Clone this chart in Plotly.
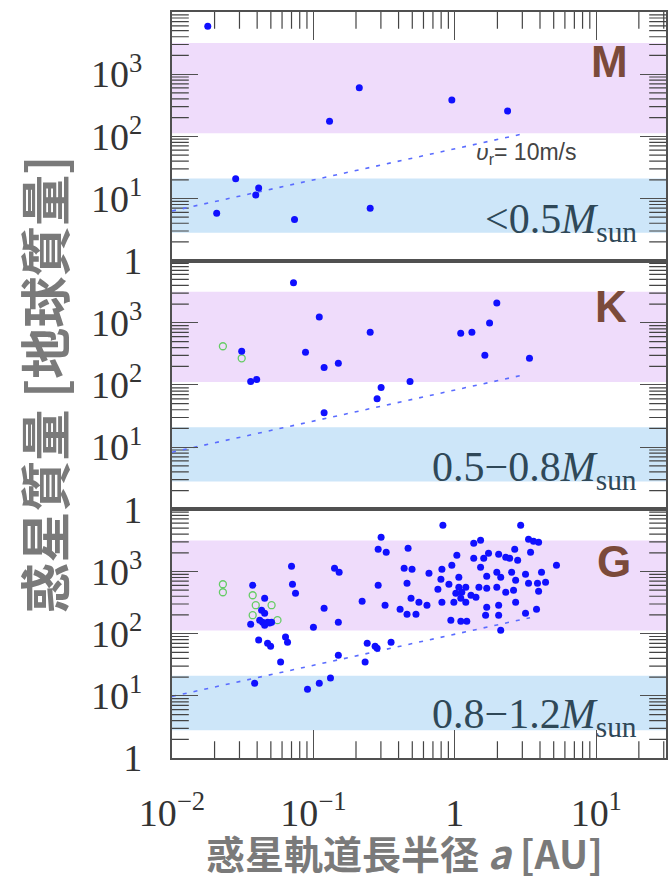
import plotly.graph_objects as go
from plotly.subplots import make_subplots

# ---------------- data: semi-major axis [AU], planet mass [Earth masses] ----------------
# M dwarfs (< 0.5 Msun)
m_a = [0.0179, 0.211, 0.952, 2.36, 0.130, 0.0282, 0.041, 0.0391, 0.0207, 0.0735, 0.252]
m_mass = [5920, 603, 385, 255, 175, 20.8, 14.8, 11.4, 5.8, 4.6, 7.0]

# K dwarfs (0.5-0.8 Msun)
k_a = [0.0723, 0.110, 0.0879, 0.119, 0.0311, 0.036, 0.0397, 0.119, 0.150, 0.252,
       1.10, 1.32, 1.76, 1.98, 1.63, 3.37, 0.482, 0.301, 0.282]
k_mass = [4400, 1240, 336, 192, 349, 114, 123, 35.9, 223, 708,
          682, 708, 991, 2090, 300, 269, 114, 91, 60]
k_open_a = [0.0229, 0.0311]
k_open_mass = [420, 269]

# G dwarfs (0.8-1.2 Msun)
g_a = [0.0372, 0.0452, 0.043, 0.0452, 0.0417, 0.0437, 0.0474, 0.0506, 0.036, 0.0452,
       0.049, 0.041, 0.0474, 0.0498, 0.0635, 0.0656, 0.0586, 0.0384, 0.070, 0.0711,
       0.0747, 0.100, 0.119, 0.141, 0.152, 0.150, 0.150, 0.0908, 0.110, 0.132,
       0.221, 0.232, 0.240, 0.273, 0.282, 0.354, 0.301, 0.287, 0.327, 0.287,
       0.321, 0.467, 0.438, 0.459, 0.410, 0.459, 0.823, 1.52, 1.36, 1.73,
       2.04, 1.033, 1.36, 1.60, 2.29, 0.498, 0.810, 0.952, 1.52, 0.656,
       1.067, 1.68, 1.98, 0.797, 0.759, 0.908, 1.067, 1.195, 1.48, 1.68,
       1.98, 1.016, 1.12, 1.30, 1.41, 1.102, 0.984, 1.195, 2.29, 0.490,
       0.557, 0.635, 0.810, 0.531, 1.68, 2.04, 1.65, 2.04, 0.937, 1.102,
       1.215, 2.11, 2.92, 3.32, 3.60, 3.91, 2.65, 2.44, 2.78, 3.43,
       5.23, 2.52, 3.16, 4.10, 2.11, 2.69, 3.32, 3.84, 4.38, 2.60,
       3.91, 2.69, 3.78, 3.16]
g_mass = [600, 372, 239, 213, 165, 153, 153, 153, 142, 137,
          148, 79, 70, 63, 88, 73, 35, 16, 1210, 624,
          448, 127, 257, 1130, 973, 153, 45, 12.8, 16, 19.3,
          333, 35, 70, 63, 58, 73, 3550, 2280, 2040, 601,
          287, 2360, 1130, 648, 248, 206, 5530, 3180, 2840, 1960,
          1890, 1820, 1630, 1630, 1690, 1090, 1090, 1260, 1170, 937,
          809, 839, 973, 751, 518, 624, 558, 558, 558, 538,
          558, 448, 464, 415, 386, 372, 321, 321, 464, 372,
          321, 287, 321, 206, 267, 287, 198, 198, 165, 159,
          159, 114, 5530, 3300, 3060, 2950, 2280, 1630, 1520, 2040,
          1260, 973, 903, 973, 809, 723, 648, 648, 672, 500,
          482, 321, 248, 213]
g_open_a = [0.0229, 0.0229, 0.0372, 0.0391, 0.0506, 0.0372, 0.0557]
g_open_mass = [624, 464, 415, 287, 287, 198, 165]

# ---------------- panel annotations and reference levels ----------------
spectral_types = ["M", "K", "G"]
star_mass_ranges = ["&lt;0.5", "0.5−0.8", "0.8−1.2"]
rv_mass_at_001au = [6.3, 8.3, 9.8]   # planet mass giving v_r = 10 m/s at 0.01 AU
rv_end_a = [3.0, 3.0, 3.4]           # outer end of the v_r = 10 m/s line [AU]
gas_giant_band = [112, 3160]
ice_giant_band = [2.8, 21]

x_tickvals = [0.01, 0.1, 1, 10]
x_ticktext = ["10<sup>−2</sup>", "10<sup>−1</sup>", "1", "10<sup>1</sup>"]
y_tickvals = [1, 10, 100, 1000]
y_ticktext = ["1", "10<sup>1</sup>", "10<sup>2</sup>", "10<sup>3</sup>"]

# ---------------- styling ----------------
BLUE = "#1010ff"
GREEN = "#66cc66"
FRAME = "#505050"
TICK_FONT = dict(family="Liberation Serif", size=38, color="#333333")
CJK = "Noto Sans CJK JP"
X_MIN, X_MAX = 0.01, 10 ** 1.493
Y_MIN, Y_MAX = 1, 10 ** 4


def minor_log_ticks(lo_exp, hi_exp):
    return [m * 10 ** e for e in range(lo_exp, hi_exp) for m in range(2, 10)]


fig = make_subplots(rows=3, cols=1, shared_xaxes=True, vertical_spacing=0)

panels = [
    (m_a, m_mass, None, None),
    (k_a, k_mass, k_open_a, k_open_mass),
    (g_a, g_mass, g_open_a, g_open_mass),
]

y_minor = minor_log_ticks(0, 4)
x_minor = [v for v in minor_log_ticks(-2, 2) if v < X_MAX]
minor_mark = dict(color="#444444", size=24, line=dict(color="#444444", width=1.2))

for i, (xa, ym, oxa, oym) in enumerate(panels):
    row = i + 1
    # minor log ticks on the panel edges, drawn as clipped tick-shaped markers
    fig.add_trace(go.Scatter(
        x=[X_MIN] * len(y_minor) + [X_MAX] * len(y_minor), y=y_minor + y_minor,
        mode="markers", marker=dict(symbol="line-ew", **minor_mark),
        showlegend=False, hoverinfo="skip", cliponaxis=True), row=row, col=1)
    if row in (1, 3):
        edge = Y_MAX if row == 1 else Y_MIN
        fig.add_trace(go.Scatter(
            x=x_minor, y=[edge] * len(x_minor),
            mode="markers", marker=dict(symbol="line-ns", **minor_mark),
            showlegend=False, hoverinfo="skip", cliponaxis=True), row=row, col=1)

    # radial-velocity detection limit, M ~ a^(1/2)
    m0 = rv_mass_at_001au[i]
    a1 = rv_end_a[i]
    fig.add_trace(go.Scatter(
        x=[0.01, a1], y=[m0, m0 * (a1 / 0.01) ** 0.5], mode="lines",
        line=dict(color="#5a6cff", width=1.6, dash="4px,7px"),
        showlegend=False, hoverinfo="skip"), row=row, col=1)
    if oxa:
        fig.add_trace(go.Scatter(
            x=oxa, y=oym, mode="markers",
            marker=dict(symbol="circle-open", size=7, color=GREEN, line=dict(width=1.3, color=GREEN)),
            showlegend=False), row=row, col=1)
    fig.add_trace(go.Scatter(
        x=xa, y=ym, mode="markers",
        marker=dict(size=7, color=BLUE, line=dict(width=0)),
        showlegend=False), row=row, col=1)

    # axes
    fig.update_yaxes(
        type="log", range=[0, 4], row=row, col=1,
        tickmode="array", tickvals=y_tickvals, ticktext=y_ticktext,
        tickfont=TICK_FONT, ticks="inside", ticklen=26, tickwidth=1.4, tickcolor=FRAME,
        showline=True, linecolor=FRAME, linewidth=2.2, mirror="allticks",
        showgrid=False, zeroline=False, ticklabelstandoff=20)
    xa_kw = dict(type="log", range=[-2, 1.493], showgrid=False, zeroline=False,
                 showline=True, linecolor=FRAME, linewidth=2.2, mirror=True,
                 tickmode="array", tickvals=x_tickvals, ticktext=x_ticktext,
                 tickfont=TICK_FONT)
    if row == 1:
        xa_kw.update(side="top", ticks="inside", ticklen=28, tickwidth=1.4, tickcolor=FRAME,
                     showticklabels=False)
    elif row == 3:
        xa_kw.update(ticks="inside", ticklen=28, tickwidth=1.4, tickcolor=FRAME,
                     showticklabels=True, ticklabelstandoff=20)
    else:
        xa_kw.update(ticks="", showticklabels=False)
    fig.update_xaxes(row=row, col=1, **xa_kw)

# background mass bands (added after the traces so every subplot gets them)
for i in range(3):
    row = i + 1
    fig.add_hrect(y0=gas_giant_band[0], y1=gas_giant_band[1], row=row, col=1,
                  fillcolor="#efdcfb", line_width=0, layer="below",
                  exclude_empty_subplots=False)
    fig.add_hrect(y0=ice_giant_band[0], y1=ice_giant_band[1], row=row, col=1,
                  fillcolor="#cde6f9", line_width=0, layer="below",
                  exclude_empty_subplots=False)

# panel text
letter_pos = [(0.885, 0.80), (0.889, 0.815), (0.895, 0.79)]
range_pos = [0.155, 0.16, 0.165]
for i in range(3):
    sfx = "" if i == 0 else str(i + 1)
    fig.add_annotation(
        xref=f"x{sfx} domain", yref=f"y{sfx} domain",
        x=letter_pos[i][0], y=letter_pos[i][1], xanchor="center", yanchor="middle",
        text=f"<b>{spectral_types[i]}</b>", showarrow=False,
        font=dict(family="Liberation Sans", size=44, color="#7b4a3a"))
    fig.add_annotation(
        xref=f"x{sfx} domain", yref=f"y{sfx} domain",
        x=0.945, y=range_pos[i], xanchor="right", yanchor="middle",
        text=f"{star_mass_ranges[i]}<i>M</i><sub>sun</sub>", showarrow=False,
        font=dict(family="Liberation Serif", size=42, color="#2f4858"))

fig.add_annotation(
    xref="x domain", yref="y domain", x=0.611, y=0.43, xanchor="left", yanchor="middle",
    text="<i>υ</i><sub>r</sub>= 10m/s", showarrow=False,
    font=dict(family="Liberation Sans", size=23, color="#444444"))

# axis titles
fig.add_annotation(
    xref="paper", yref="paper", x=-0.262, y=0.5, xanchor="center", yanchor="middle",
    textangle=-90, text="<b>惑星質量 [地球質量]</b>", showarrow=False,
    font=dict(family=CJK, size=51, color="#7a7a7a"))
fig.add_annotation(
    xref="paper", yref="paper", x=0.47, y=-0.126, xanchor="center", yanchor="middle",
    text="<b>惑星軌道長半径 <i>a</i> [AU]</b>", showarrow=False,
    font=dict(family=CJK, size=39, color="#7a7a7a"))

fig.update_layout(
    width=669, height=880,
    margin=dict(l=172, r=1, t=12, b=122),
    paper_bgcolor="white", plot_bgcolor="white",
    showlegend=False,
)

fig.write_html("out.html")
